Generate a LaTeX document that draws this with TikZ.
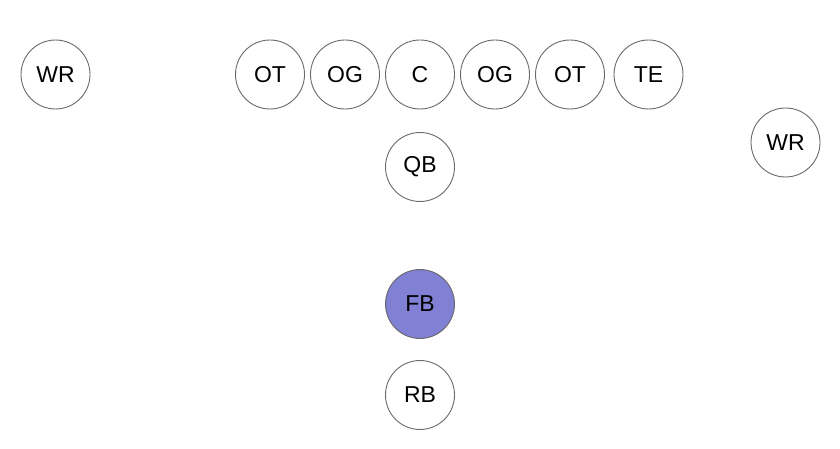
\documentclass[tikz,border=0pt]{standalone}
\usepackage{fontspec}
\setmainfont{Liberation Sans}
\definecolor{ringgray}{RGB}{105,105,105}
\definecolor{fbfill}{RGB}{128,128,212}
\begin{document}
\begin{tikzpicture}[x=1pt,y=-1pt,
  player/.style={circle,draw=ringgray,line width=0.9pt,minimum size=69pt,inner sep=0pt,font=\fontsize{23}{23}\selectfont,text=black,fill=white},
  hot/.style={player,fill=fbfill}]
\useasboundingbox[fill=white] (0,0) rectangle (840,449);
\node[player] (wrl) at (55.5,74.5) {WR};
\node[player] (otl) at (270,74.5) {OT};
\node[player] (ogl) at (345,74.5) {OG};
\node[player] (c) at (420,74.5) {C};
\node[player] (ogr) at (495,74.5) {OG};
\node[player] (otr) at (570,74.5) {OT};
\node[player] (te) at (648.5,74.5) {TE};
\node[player] (wrr) at (785.5,142.5) {WR};
\node[player] (qb) at (420,167) {QB};
\node[hot] (fb) at (420,304) {FB};
\node[player] (rb) at (420,395) {RB};
\end{tikzpicture}
\end{document}
